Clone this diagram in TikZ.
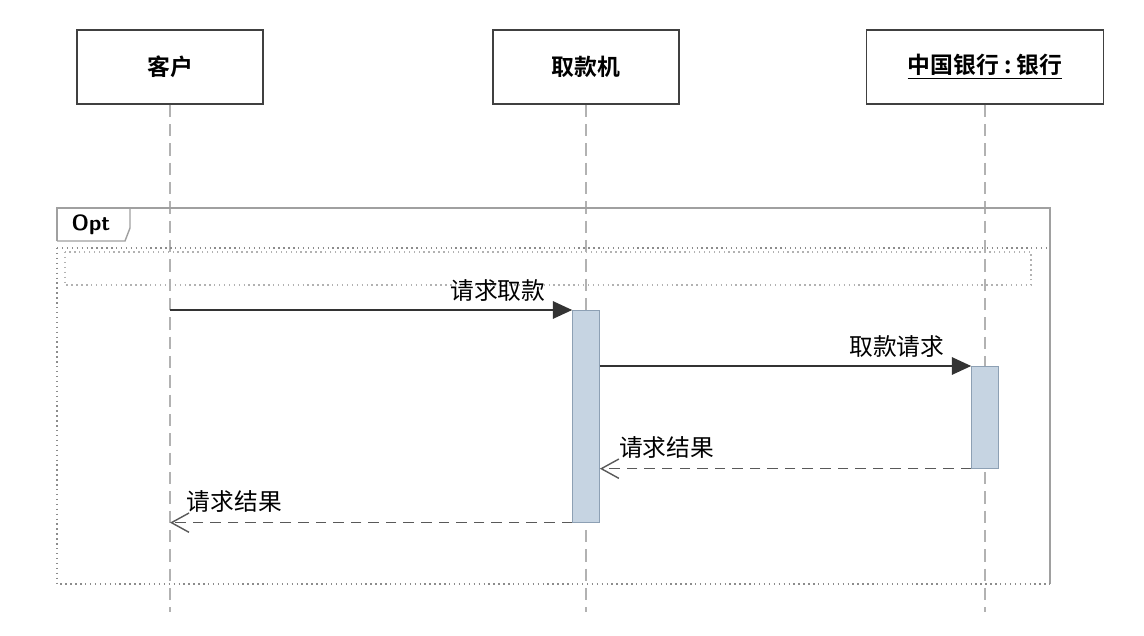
\documentclass[tikz,border=0pt]{standalone}
\usepackage{fontspec}
\setmainfont{Noto Sans CJK SC}[BoldFont={Noto Sans CJK SC Bold}]
\usetikzlibrary{positioning,arrows.meta,calc}
\definecolor{actfill}{HTML}{C6D4E2}
\definecolor{actline}{HTML}{8DA0B4}
\definecolor{frameln}{HTML}{A0A0A0}

\begin{document}
\begin{tikzpicture}[x=0.02cm, y=-0.02cm, font=\fontsize{13.5}{15}\selectfont,
  obj/.style={draw=black!75, thick, fill=white, minimum width=3.72cm, minimum height=1.48cm, font=\fontsize{13}{15}\selectfont\bfseries},
  life/.style={draw=black!30, thick, dash pattern=on 7pt off 4pt},
  act/.style={draw=actline, fill=actfill, minimum width=0.54cm, inner sep=0pt},
  call/.style={draw=black!80, thick, -{Triangle[length=11pt,width=10pt]}},
  ret/.style={draw=black!65, thick, dash pattern=on 6pt off 4pt, -{Straight Barb[length=10pt,width=11pt]}},
  dots/.style={draw=black!45, thick, dotted}]
  \useasboundingbox (0,0) rectangle (1144,636);
  % objects
  \node[obj] (cust) at (170,67) {客户};
  \node[obj] (atm)  at (586,67) {取款机};
  \node[obj, minimum width=4.74cm] (bank) at (985,67) {\underline{中国银行\ :\ 银行}};
  % lifelines
  \coordinate (custend) at (170,612);
  \coordinate (atmend)  at (586,612);
  \coordinate (bankend) at (985,612);
  \draw[life] (cust.south) -- (custend);
  \draw[life] (atm.south) -- (atmend);
  \draw[life] (bank.south) -- (bankend);
  % opt fragment
  \draw[frameln, thick] (57,241) -- (57,208) -- (1050,208) -- (1050,584);
  \draw[frameln, thick] (57,241) -- (125,241) -- (130,228) -- (130,208);
  \node[font=\fontsize{12.5}{14}\selectfont\bfseries\sffamily] (opt) at (91,225) {Opt};
  \draw[dots] (57,248) -- (1050,248);
  \draw[dots] (57,248) -- (57,584) -- (1050,584);
  \draw[dots, draw=black!30] (65,252) rectangle (1031,285);
  % activations
  \node[act, minimum height=4.24cm, anchor=north] (act1) at (586,310) {};
  \node[act, minimum height=2.04cm, anchor=north] (act2) at (985,366) {};
  % messages
  \draw[call] (cust |- act1.north) -- (act1.north west)
    node[pos=0.815, above=1pt] (m1) {请求取款};
  \draw[call] (act1.east |- act2.north) -- (act2.north west)
    node[pos=0.8, above=1pt] (m2) {取款请求};
  \draw[ret] (act2.south west) -- (act1.east |- act2.south)
    node[pos=0.82, above=2pt] (m3) {请求结果};
  \draw[ret] (act1.south west) -- (cust |- act1.south)
    node[pos=0.84, above=2pt] (m4) {请求结果};
\end{tikzpicture}
\end{document}
